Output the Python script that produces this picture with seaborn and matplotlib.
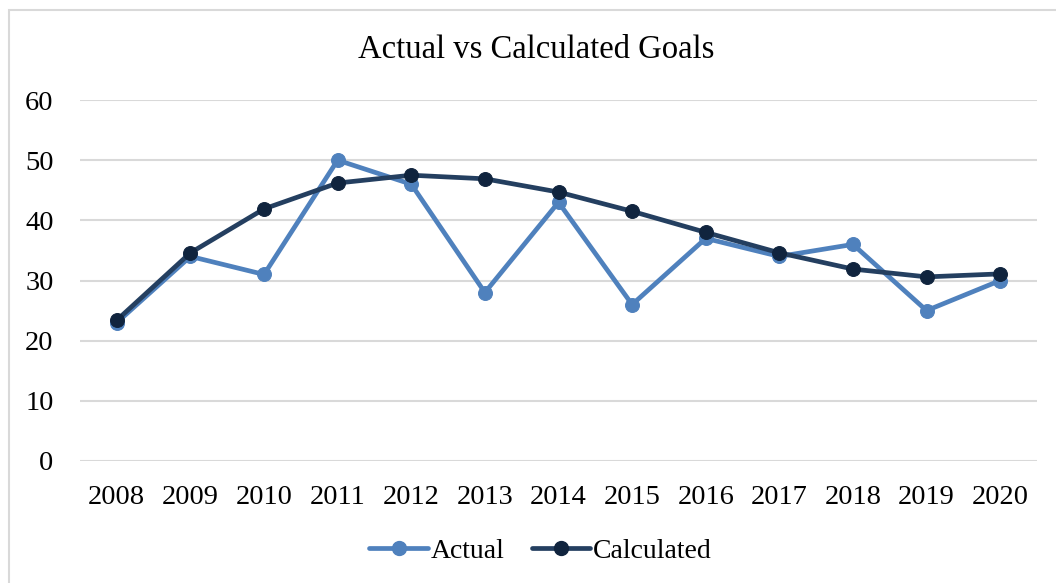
import pandas as pd
import matplotlib.pyplot as plt
import seaborn as sns
from matplotlib.patches import Rectangle
from matplotlib.lines import Line2D

# Dados
anos = [2008, 2009, 2010, 2011, 2012, 2013, 2014, 2015, 2016, 2017, 2018, 2019, 2020]
actual = [23, 34, 31, 50, 46, 28, 43, 26, 37, 34, 36, 25, 30]
calculated = [23.4, 34.6, 41.9, 46.2, 47.5, 46.9, 44.7, 41.5, 38.0, 34.6, 31.9, 30.6, 31.1]

cor_actual = '#4F81BD'
cor_calc_linha = '#243F60'
cor_calc_marcador = '#10243E'

sns.set_style("white")
plt.rcParams['font.family'] = ['Liberation Serif', 'DejaVu Serif']
plt.rcParams['text.color'] = 'black'

data = pd.DataFrame({'ano': anos, 'Actual': actual, 'Calculated': calculated})

fig = plt.figure(figsize=(10.56, 5.83), dpi=100)
ax = fig.add_axes([80 / 1056, 1 - 461 / 583, 957 / 1056, 361 / 583])

sns.lineplot(data=data, x='ano', y='Actual', ax=ax, color=cor_actual, lw=3.4,
             marker='o', ms=10, mfc=cor_actual, mec=cor_actual, label='Actual')
sns.lineplot(data=data, x='ano', y='Calculated', ax=ax, color=cor_calc_linha, lw=3.4,
             marker='o', ms=10, mfc=cor_calc_marcador, mec=cor_calc_marcador, label='Calculated')

ax.set_xlim(2007.5, 2020.5)
ax.set_ylim(0, 60)
ax.set_xticks(anos)
ax.set_xticklabels([str(a) for a in anos])
ax.set_yticks(range(0, 61, 10))
ax.tick_params(axis='both', labelsize=20.5, length=0, colors='black')
ax.tick_params(axis='x', pad=17)
ax.tick_params(axis='y', pad=19)
ax.grid(axis='y', color='#D9D9D9', lw=1.5)
ax.set_axisbelow(True)
for s in ax.spines.values():
    s.set_visible(False)
ax.set_xlabel('')
ax.set_ylabel('')

fig.text(0.508, 1 - 50 / 583, 'Actual vs Calculated Goals', ha='center', va='center',
         fontsize=23.5, color='black')

handles = [
    Line2D([], [], color=cor_actual, lw=3.4, marker='o', ms=10, mfc=cor_actual, mec=cor_actual),
    Line2D([], [], color=cor_calc_linha, lw=3.4, marker='o', ms=10, mfc=cor_calc_marcador, mec=cor_calc_marcador),
]
leg = ax.legend(handles, ['Actual', 'Calculated'], loc='center', bbox_to_anchor=(0.512, 1 - 551 / 583),
                bbox_transform=fig.transFigure, ncol=2, frameon=False, fontsize=20,
                handlelength=2.1, handletextpad=0.1, columnspacing=1.0)
for t in leg.get_texts():
    t.set_color('black')

# Moldura do gráfico
fig.patches.append(Rectangle((9 / 1056, -0.1), 1.2, 1 - 10 / 583 + 0.1, transform=fig.transFigure,
                             fill=False, edgecolor='#D9D9D9', lw=1.5))

fig.savefig('out.png', dpi=100)
